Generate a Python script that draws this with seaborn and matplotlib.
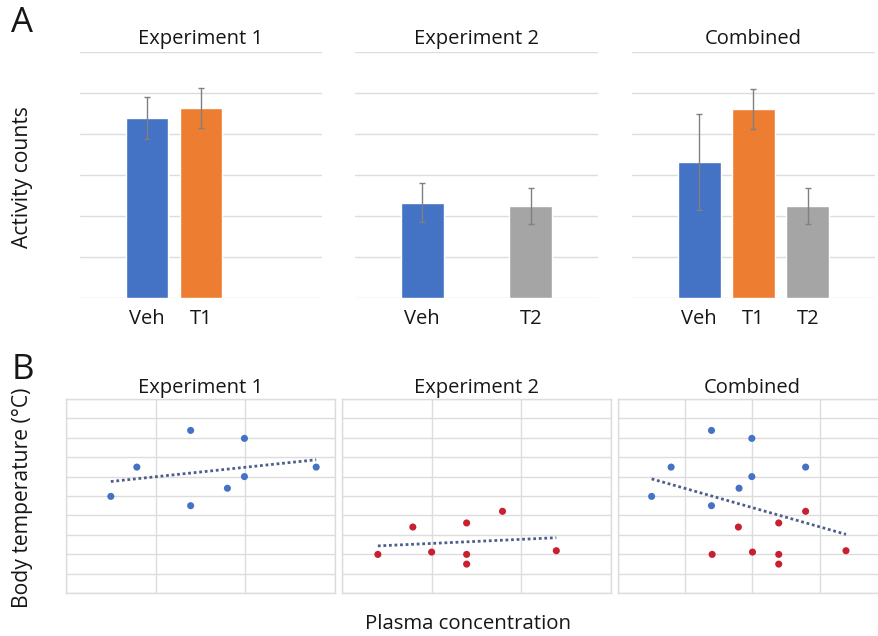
import matplotlib.pyplot as plt
import numpy as np
import pandas as pd
import seaborn as sns

# Panel A - activity counts (mean and error), in gridline units
groups = ["Veh", "T1", "T2"]
exp1_groups = ["Veh", "T1"]
exp1_activity = [4.39, 4.63]
exp1_err = [0.52, 0.49]
exp2_groups = ["Veh", "T2"]
exp2_activity = [2.32, 2.24]
exp2_err = [0.48, 0.45]
comb_groups = ["Veh", "T1", "T2"]
comb_activity = [3.32, 4.61, 2.24]
comb_err = [1.18, 0.49, 0.45]

# Panel B - body temperature vs plasma concentration
exp1_conc = [0.50, 0.79, 1.39, 1.39, 1.80, 1.99, 1.99, 2.79]
exp1_temp = [4.98, 6.49, 8.38, 4.50, 5.40, 7.97, 6.00, 6.49]
exp2_conc = [1.40, 1.79, 2.00, 2.39, 2.39, 2.39, 2.79, 3.39]
exp2_temp = [1.99, 3.40, 2.11, 3.61, 1.99, 1.49, 4.21, 2.18]

bar_colors = {"Veh": "#4472C4", "T1": "#ED7D31", "T2": "#A5A5A5"}
dot_colors = {"Experiment 1": "#4472C4", "Experiment 2": "#C8202F"}
grid_col = "#dcdcdc"

sns.set_style("white")
plt.rcParams['font.family'] = ['Open Sans', 'DejaVu Sans']
plt.rcParams['text.color'] = '#161616'
plt.rcParams['xtick.color'] = '#161616'

fig = plt.figure(figsize=(8.79, 6.36), dpi=100)
W, H = 879, 636


def px_axes(left, top, right, bottom):
    return fig.add_axes([left / W, 1 - bottom / H, (right - left) / W, (bottom - top) / H])


def bar_panel(ax, cats, vals, errs, title):
    df = pd.DataFrame({"group": cats, "activity": vals})
    sns.barplot(data=df, x="group", y="activity", hue="group", order=groups,
                hue_order=groups, palette=bar_colors, width=0.79, errorbar=None,
                saturation=1, legend=False, ax=ax)
    pos = [groups.index(c) for c in cats]
    ax.errorbar(pos, vals, yerr=errs, fmt="none", ecolor="#808080",
                elinewidth=1, capsize=2.5, capthick=1)
    ax.set_xlim(-1.24, 3.24)
    ax.set_ylim(-0.01, 6.01)
    ax.set_yticks(range(7))
    ax.set_yticklabels([])
    ax.set_xticks(pos)
    ax.set_xticklabels(cats)
    ax.grid(axis="y", color=grid_col, lw=1)
    ax.set_axisbelow(True)
    sns.despine(ax=ax, left=True, bottom=True)
    ax.tick_params(length=0, labelsize=14.5, pad=8)
    ax.set_title(title, fontsize=14.5, pad=6)
    ax.set_xlabel("")
    ax.set_ylabel("")


def scatter_panel(ax, df, xlim, title):
    sns.scatterplot(data=df, x="conc", y="temp", hue="exp", palette=dot_colors,
                    s=26, edgecolor="none", legend=False, ax=ax, zorder=3)
    sns.regplot(data=df, x="conc", y="temp", scatter=False, ci=None, ax=ax,
                line_kws=dict(color="#4C5E8A", lw=2, ls=(0, (1, 1))))
    ax.set_xlim(*xlim)
    ax.set_ylim(0, 10)
    ax.set_xticks(np.arange(xlim[0], xlim[1] + 1))
    ax.set_yticks(range(11))
    ax.set_xticklabels([])
    ax.set_yticklabels([])
    ax.tick_params(length=0)
    ax.grid(True, color=grid_col, lw=1)
    ax.set_axisbelow(True)
    for s in ax.spines.values():
        s.set_color(grid_col)
        s.set_linewidth(1)
    ax.set_title(title, fontsize=14.5, pad=4)
    ax.set_xlabel("")
    ax.set_ylabel("")


# A
bar_panel(px_axes(80, 52, 322, 298), exp1_groups, exp1_activity, exp1_err, "Experiment 1")
bar_panel(px_axes(355, 52, 598, 298), exp2_groups, exp2_activity, exp2_err, "Experiment 2")
bar_panel(px_axes(632, 52, 875, 298), comb_groups, comb_activity, comb_err, "Combined")

# B
e1 = pd.DataFrame({"conc": exp1_conc, "temp": exp1_temp, "exp": "Experiment 1"})
e2 = pd.DataFrame({"conc": exp2_conc, "temp": exp2_temp, "exp": "Experiment 2"})
scatter_panel(px_axes(66, 399, 335, 593), e1, (0, 3), "Experiment 1")
scatter_panel(px_axes(342, 399, 611, 593), e2, (1, 4), "Experiment 2")
scatter_panel(px_axes(618, 399, 887, 593), pd.concat([e1, e2], ignore_index=True), (0, 4), "Combined")

fig.text(22 / W, 1 - 23 / H, "A", fontsize=25, ha="center", va="center")
fig.text(23 / W, 1 - 370 / H, "B", fontsize=25, ha="center", va="center")
fig.text(23 / W, 1 - 177 / H, "Activity counts", fontsize=15.2, rotation=90, ha="center", va="center")
fig.text(23 / W, 1 - 498 / H, "Body temperature (°C)", fontsize=15.2, rotation=90, ha="center", va="center")
fig.text(468 / W, 1 - 624 / H, "Plasma concentration", fontsize=14.7, ha="center", va="center")

fig.savefig("out.png", dpi=100)
